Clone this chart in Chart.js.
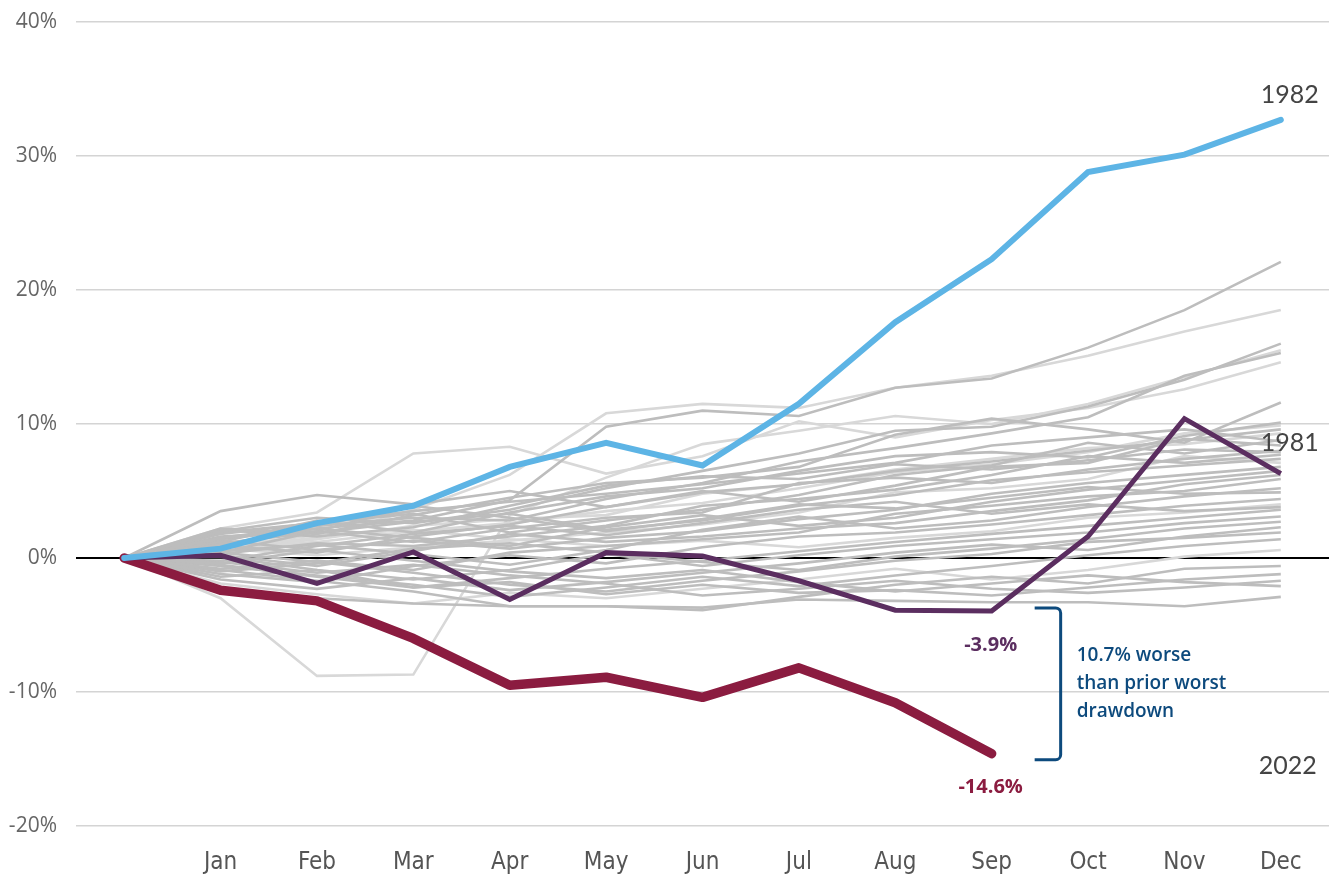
<!DOCTYPE html>
<html>
<head>
<meta charset="utf-8">
<title>Year-to-date returns</title>
<script src="https://cdn.jsdelivr.net/npm/chart.js@4.4.1/dist/chart.umd.min.js"></script>
<style>
    html, body { margin: 0; padding: 0; background: #fff; }
    #wrap { width: 1329px; height: 879px; }
</style>
</head>
<body>
<div id="wrap"><canvas id="returnsChart" width="1329" height="879"></canvas></div>
<script>
// Months (first slot is the starting point, no label)
const months = ['', 'Jan', 'Feb', 'Mar', 'Apr', 'May', 'Jun', 'Jul', 'Aug', 'Sep', 'Oct', 'Nov', 'Dec'];
const yTicks = [-20, -10, 0, 10, 20, 30, 40];

// Highlighted years, cumulative % return
const year1982 = [0, 0.7, 2.6, 3.9, 6.8, 8.6, 6.9, 11.5, 17.6, 22.3, 28.8, 30.1, 32.7];
const year1981 = [0, 0.2, -1.9, 0.45, -3.1, 0.4, 0.15, -1.7, -3.9, -3.95, 1.6, 10.4, 6.3];
const year2022 = [0, -2.4, -3.2, -6.0, -9.5, -8.9, -10.4, -8.2, -10.8, -14.6];

// All other years (grey background lines)
const otherYears = [
    [0, 1.0, 2.2, 2.8, 4.3, 9.8, 11.0, 10.6, 12.7, 13.4, 15.7, 18.5, 22.1],
    [0, 0.8, 1.5, 3.6, 6.2, 10.8, 11.5, 11.2, 12.7, 13.6, 15.1, 16.9, 18.5],
    [0, 3.5, 4.7, 4.0, 5.0, 3.8, 4.9, 5.5, 6.5, 7.2, 8.0, 8.8, 9.6],
    [0, 2.2, 3.4, 7.8, 8.3, 6.3, 7.6, 10.2, 9.0, 10.3, 11.2, 12.6, 14.6],
    [0, -3.0, -8.8, -8.7, 3.2, 6.0, 8.5, 9.5, 10.6, 10.0, 11.5, 13.5, 15.5],
    [0, 2.0, 3.0, 2.6, 3.6, 5.2, 6.5, 7.8, 9.5, 9.8, 11.3, 13.3, 16.0],
    [0, 1.5, 2.4, 3.0, 2.8, 4.4, 5.6, 7.2, 8.2, 9.3, 10.5, 13.6, 15.3],
    [0, 2.2, 1.8, 3.2, 4.5, 5.6, 6.0, 6.8, 9.2, 10.4, 9.6, 8.6, 11.6],
    [0, 1.2, 2.8, 1.9, 3.4, 4.6, 5.2, 6.5, 7.6, 7.9, 7.5, 9.1, 10.1],
    [0, 0.6, 1.4, 2.4, 2.9, 3.2, 4.8, 5.5, 6.6, 7.4, 8.2, 8.5, 9.3],
    [0, 1.8, 2.6, 3.3, 1.9, 2.8, 3.6, 4.7, 6.2, 6.9, 8.6, 7.8, 8.8],
    [0, 0.9, 0.4, 1.6, 2.5, 3.8, 5.0, 4.2, 5.4, 6.8, 7.1, 8.9, 8.4],
    [0, 1.6, 2.0, 1.2, 2.2, 3.0, 3.4, 5.6, 6.0, 5.6, 6.6, 7.4, 8.0],
    [0, 0.3, 1.1, 0.9, 1.6, 2.4, 3.9, 4.4, 5.1, 6.2, 7.6, 7.1, 7.7],
    [0, 1.1, 1.9, 2.7, 3.3, 2.1, 2.8, 3.9, 4.7, 5.8, 6.4, 6.9, 7.4],
    [0, 0.7, 0.2, 0.8, 1.3, 1.9, 2.5, 3.4, 4.9, 5.2, 5.9, 7.6, 7.1],
    [0, -0.4, 0.6, 1.3, 0.7, 1.5, 2.0, 2.9, 3.6, 4.8, 5.6, 6.2, 6.8],
    [0, 1.4, 2.2, 1.5, 0.9, 2.3, 3.2, 2.4, 3.0, 4.2, 5.1, 5.8, 6.5],
    [0, 0.2, -0.6, 0.5, 1.8, 1.2, 1.6, 2.2, 2.6, 3.5, 4.3, 5.5, 6.2],
    [0, -0.8, -0.2, -0.9, 0.4, 0.9, 1.4, 1.9, 3.3, 3.9, 4.6, 5.0, 5.9],
    [0, 0.5, 1.0, 0.3, -0.5, 0.6, 2.1, 3.1, 2.2, 2.8, 3.8, 4.6, 5.2],
    [0, -1.2, -1.8, -0.6, 0.2, -0.4, 0.8, 1.6, 1.9, 2.5, 3.2, 3.9, 4.4],
    [0, 0.9, 1.7, 2.1, 1.4, 0.9, 1.3, 0.8, 1.5, 2.0, 3.0, 3.4, 4.0],
    [0, -0.5, -1.4, -2.2, -1.5, -0.8, -0.2, 0.5, 1.2, 1.8, 2.4, 3.0, 3.6],
    [0, 0.1, -0.9, -1.6, -0.9, 0.3, -0.6, 0.2, 0.9, 1.4, 1.9, 2.6, 3.1],
    [0, -1.0, -0.4, 0.7, 1.1, 0.4, -0.3, -0.9, 0.1, 0.7, 1.4, 2.2, 2.7],
    [0, -1.6, -2.3, -1.5, -2.4, -1.8, -1.1, -0.4, 0.4, 1.0, 0.6, 1.6, 2.3],
    [0, 0.4, -0.3, -1.1, -2.0, -2.5, -1.7, -1.0, -0.2, 0.3, 1.2, 1.5, 1.9],
    [0, -0.6, -1.3, -2.0, -2.9, -2.2, -1.4, -2.1, -1.3, -0.6, 0.2, 0.9, 1.4],
    [0, -1.9, -2.7, -3.4, -2.6, -3.0, -2.3, -1.6, -0.8, -1.6, -0.9, 0.1, 0.6],
    [0, -0.9, -1.7, -2.5, -3.6, -3.6, -3.9, -2.9, -2.0, -1.4, -1.9, -0.8, -0.6],
    [0, -1.4, -0.9, -2.2, -1.8, -2.7, -2.0, -2.6, -2.4, -2.8, -2.2, -1.6, -1.2],
    [0, -2.2, -3.0, -3.4, -3.6, -3.6, -3.7, -3.1, -3.2, -3.3, -3.3, -3.6, -2.9],
    [0, -0.3, -1.1, -0.5, -1.3, -1.9, -2.8, -2.3, -1.7, -2.3, -2.6, -2.2, -1.7],
    [0, 1.3, 0.6, -0.2, -1.0, -1.5, -0.9, -1.8, -2.5, -1.9, -1.3, -1.8, -2.1],
    [0, 0.6, 1.2, 2.0, 2.6, 3.5, 4.1, 5.2, 6.4, 7.0, 7.9, 9.3, 9.9],
    [0, 1.9, 2.6, 3.5, 4.2, 4.8, 5.5, 6.3, 7.1, 8.4, 9.0, 9.6, 8.7],
    [0, 2.1, 1.6, 2.3, 3.9, 5.4, 6.1, 5.9, 7.0, 6.6, 7.3, 8.1, 7.9],
    [0, 0.4, 2.0, 3.9, 3.0, 2.0, 2.9, 4.0, 3.7, 4.5, 5.3, 4.8, 4.9],
    [0, -0.2, 0.9, 1.8, 2.4, 1.7, 2.6, 3.6, 4.2, 3.3, 4.0, 3.5, 3.8]
];

const COLOR_1982 = '#5db4e5';
const COLOR_1981 = '#5b2e60';
const COLOR_2022 = '#8b1c40';
const COLOR_NOTE = '#0d4a7d';
const GREY_DARK = '#bdbdbd';
const GREY_LIGHT = '#d8d8d8';
// which background lines are drawn in the lighter grey
const lightLines = [1, 3, 4, 9, 15, 22, 29, 35];

// Build datasets: greys behind, highlights on top
const datasets = otherYears.map(function(values, i) {
    return {
        data: values,
        borderColor: lightLines.includes(i) ? GREY_LIGHT : GREY_DARK,
        borderWidth: 2.6,
        pointRadius: 0,
        tension: 0,
        order: lightLines.includes(i) ? 11 : 10
    };
});

datasets.push({
    data: year2022,
    borderColor: COLOR_2022,
    borderWidth: 9.5,
    borderCapStyle: 'round',
    borderJoinStyle: 'round',
    pointRadius: 0,
    order: 3
});
datasets.push({
    data: year1981,
    borderColor: COLOR_1981,
    borderWidth: 5,
    borderJoinStyle: 'miter',
    pointRadius: 0,
    order: 2
});
datasets.push({
    data: year1982,
    borderColor: COLOR_1982,
    borderWidth: 6,
    borderCapStyle: 'round',
    pointRadius: 0,
    order: 1
});

// Labels and the drawdown bracket, positioned through the chart scales
const notesPlugin = {
    id: 'notes',
    afterDatasetsDraw: function(chart) {
        const ctx = chart.ctx;
        const x = chart.scales.x;
        const y = chart.scales.y;
        const last = months.length - 1;
        const sep = 9;

        ctx.save();
        ctx.textBaseline = 'middle';

        // year tags
        ctx.font = '25px Lato';
        ctx.fillStyle = '#444';
        ctx.textAlign = 'right';
        ctx.fillText('1982', x.getPixelForValue(last) + 38, y.getPixelForValue(year1982[last]) - 25);
        ctx.fillText('1981', x.getPixelForValue(last) + 38, y.getPixelForValue(year1981[last]) - 31);
        ctx.fillText('2022', x.getPixelForValue(last) + 36, y.getPixelForValue(-15.5));

        // values at Sep
        ctx.textAlign = 'center';
        ctx.font = 'bold 20px "Open Sans"';
        ctx.fillStyle = COLOR_1981;
        ctx.fillText('-3.9%', x.getPixelForValue(sep) - 1, y.getPixelForValue(year1981[sep]) + 34);
        ctx.fillStyle = COLOR_2022;
        ctx.fillText('-14.6%', x.getPixelForValue(sep) - 1, y.getPixelForValue(year2022[sep]) + 34);

        // bracket
        const bx0 = x.getPixelForValue(sep) + 43;
        const bx1 = x.getPixelForValue(sep) + 69;
        const top = y.getPixelForValue(year1981[sep]) - 3;
        const bottom = y.getPixelForValue(year2022[sep]) + 6;
        const r = 5;
        ctx.strokeStyle = COLOR_NOTE;
        ctx.lineWidth = 3;
        ctx.beginPath();
        ctx.moveTo(bx0, top);
        ctx.lineTo(bx1 - r, top);
        ctx.arcTo(bx1, top, bx1, top + r, r);
        ctx.lineTo(bx1, bottom - r);
        ctx.arcTo(bx1, bottom, bx1 - r, bottom, r);
        ctx.lineTo(bx0, bottom);
        ctx.stroke();

        // note text
        ctx.textAlign = 'left';
        ctx.fillStyle = COLOR_NOTE;
        ctx.font = '600 19px "Open Sans"';
        const noteLines = ['10.7% worse', 'than prior worst', 'drawdown'];
        const mid = (top + bottom) / 2;
        noteLines.forEach(function(line, i) {
            ctx.fillText(line, bx1 + 16, mid - 28 + i * 28);
        });

        ctx.restore();
    }
};

new Chart(document.getElementById('returnsChart'), {
    type: 'line',
    data: {
        labels: months,
        datasets: datasets
    },
    options: {
        responsive: false,
        animation: false,
        devicePixelRatio: 1,
        layout: { padding: { top: 22, right: 0, left: 0, bottom: 0 } },
        plugins: {
            legend: { display: false },
            tooltip: { enabled: false }
        },
        scales: {
            x: {
                type: 'category',
                offset: true,
                grid: { display: false, drawTicks: false },
                border: { display: false },
                ticks: {
                    padding: 22,
                    color: '#555',
                    font: { family: '"DejaVu Sans Condensed", "Roboto Condensed", Roboto, sans-serif', size: 24 },
                    maxRotation: 0,
                    autoSkip: false
                },
                afterFit: function(scale) { scale.height = 53; }
            },
            y: {
                min: yTicks[0],
                max: yTicks[yTicks.length - 1],
                afterBuildTicks: function(scale) {
                    scale.ticks = yTicks.map(function(v) { return { value: v }; });
                },
                grid: {
                    drawTicks: false,
                    lineWidth: function(c) { return c.tick && c.tick.value === 0 ? 2 : 1.5; },
                    color: function(c) { return c.tick && c.tick.value === 0 ? '#000' : '#d4d4d4'; }
                },
                border: { display: false },
                ticks: {
                    padding: 19,
                    color: '#666',
                    font: { family: '"Open Sans"', size: 21 },
                    callback: function(v) { return v + '%'; }
                },
                afterFit: function(scale) {
                    scale.width = 76;
                    scale.paddingTop = 0;
                    scale.paddingBottom = 0;
                }
            }
        }
    },
    plugins: [notesPlugin]
});
</script>
</body>
</html>
